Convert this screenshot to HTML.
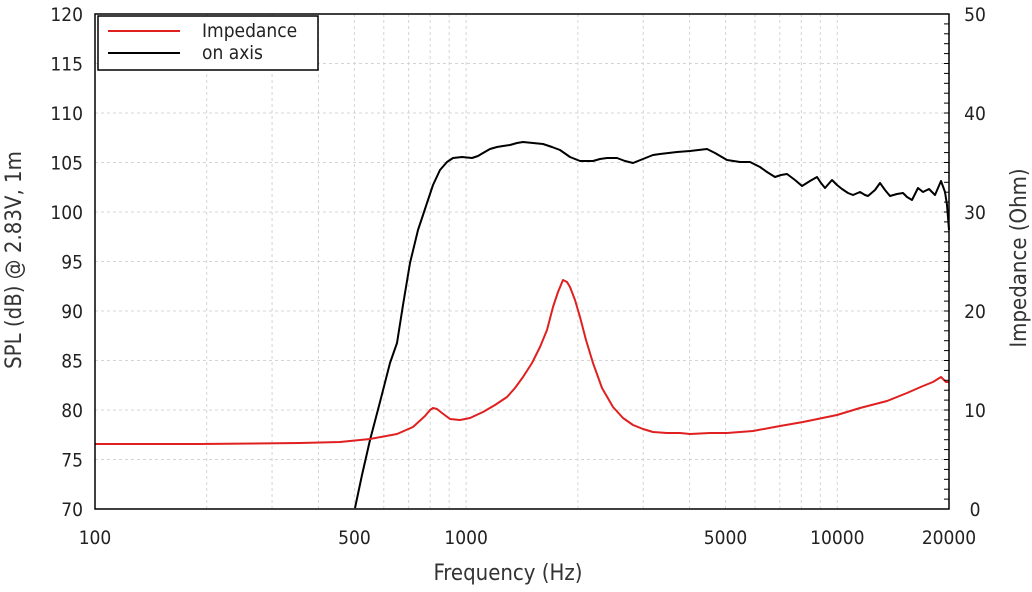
<!DOCTYPE html>
<html><head><meta charset="utf-8">
<style>
body{margin:0;background:#fff;}
svg{display:block;font-family:"DejaVu Sans Condensed","DejaVu Sans","Liberation Sans",sans-serif;}
</style></head>
<body>
<svg id="s" width="1032" height="592" viewBox="0 0 1032 592" xmlns="http://www.w3.org/2000/svg">
<g id="grid" stroke="#d4d4d4" stroke-width="1" stroke-dasharray="3,3"></g>
<polyline fill="none" stroke="#000" stroke-width="2" stroke-linejoin="round" points="355,508 362,475 370,440 380,402 390,363 397,343 403,305 410,263 418,230 427,203 433,185 440,170 447,162 453,158 462,157 472,158 478,156 483,153 490,149 497,147 503,146 510,145 517,143 523,142 533,143 543,144 552,147 560,150 570,157 580,161 593,161 600,159 607,158 617,158 625,161 633,163 643,159 653,155 660,154 677,152 690,151 707,149 715,153 727,160 740,162 750,162 760,167 767,172 775,177 781,175 787,174 795,180 802,186 810,181 817,177 821,183 825,188 832,180 837,185 842,189 848,193 853,195 860,192 865,195 868,196 875,190 880,183 885,190 890,196 897,194 903,193 907,197 912,200 915,194 918,188 923,192 929,189 935,195 938,188 941,181 945,192 947,205 949,230"/>
<polyline fill="none" stroke="#e02020" stroke-width="2" stroke-linejoin="round" points="95,444 200,444 300,443 340,442 370,439 397,434 413,427 425,416 430,410 433,408 437,409 442,413 450,419 460,420 470,418 483,412 495,405 507,397 515,388 523,377 532,363 540,347 547,330 553,307 558,292 563,280 567,282 570,287 575,300 580,317 586,340 593,363 602,388 613,407 623,418 633,425 643,429 653,432 667,433 680,433 690,434 710,433 727,433 753,431 780,426 803,422 837,415 860,408 887,401 907,393 923,386 933,382 941,377 946,382 949,382"/>
<rect x="95" y="14" width="854" height="495" fill="none" stroke="#000" stroke-width="1.5"/>
<g id="ticks" stroke="#000" stroke-width="1"></g>
<g id="labels" font-size="19" fill="#222"></g>
<rect x="98" y="16" width="220" height="54" fill="#fff" stroke="#000" stroke-width="1.5"/>
<line x1="108" y1="31" x2="180" y2="31" stroke="#e02020" stroke-width="2"/>
<line x1="108" y1="53" x2="180" y2="53" stroke="#000" stroke-width="2"/>
<text x="202" y="37" font-size="19" fill="#222">Impedance</text>
<text x="202" y="59" font-size="19" fill="#222">on axis</text>
<text x="508" y="580" font-size="22" fill="#333" text-anchor="middle">Frequency (Hz)</text>
<text transform="translate(21,260) rotate(-90)" font-size="22" fill="#333" text-anchor="middle">SPL (dB) @ 2.83V, 1m</text>
<text transform="translate(1026,258) rotate(-90)" font-size="22" fill="#333" text-anchor="middle">Impedance (Ohm)</text>
</svg>
<script>
var NS="http://www.w3.org/2000/svg";
var g=document.getElementById("grid"),L=document.getElementById("labels"),T=document.getElementById("ticks");
function X(f){return 95+Math.log10(f/100)/Math.log10(200)*854;}
function ln(p,x1,y1,x2,y2){var l=document.createElementNS(NS,"line");l.setAttribute("x1",x1);l.setAttribute("y1",y1);l.setAttribute("x2",x2);l.setAttribute("y2",y2);p.appendChild(l);}
function tx(x,y,s,a){var t=document.createElementNS(NS,"text");t.setAttribute("x",x);t.setAttribute("y",y);t.setAttribute("text-anchor",a);t.textContent=s;L.appendChild(t);}
[100,1000,10000].forEach(function(d){for(var k=1;k<10;k++){var f=d*k;if(f>100&&f<20000)ln(g,X(f),14,X(f),509);}});
for(var v=75;v<120;v+=5){var y=509-(v-70)*9.9;ln(g,95,y,949,y);}
for(var v=1;v<50;v++){var y=509-v*9.9;ln(T,944,y,949,y);}
for(var v=70;v<=120;v+=5){var y=509-(v-70)*9.9;tx(83,y+7,String(v),"end");}
for(var v=0;v<=50;v+=10){var y=509-v*9.9;tx(975,y+7,String(v),"middle");}
[[100,"100"],[500,"500"],[1000,"1000"],[5000,"5000"],[10000,"10000"],[20000,"20000"]].forEach(function(p){tx(X(p[0]),544,p[1],"middle");});
</script>
</body></html>
